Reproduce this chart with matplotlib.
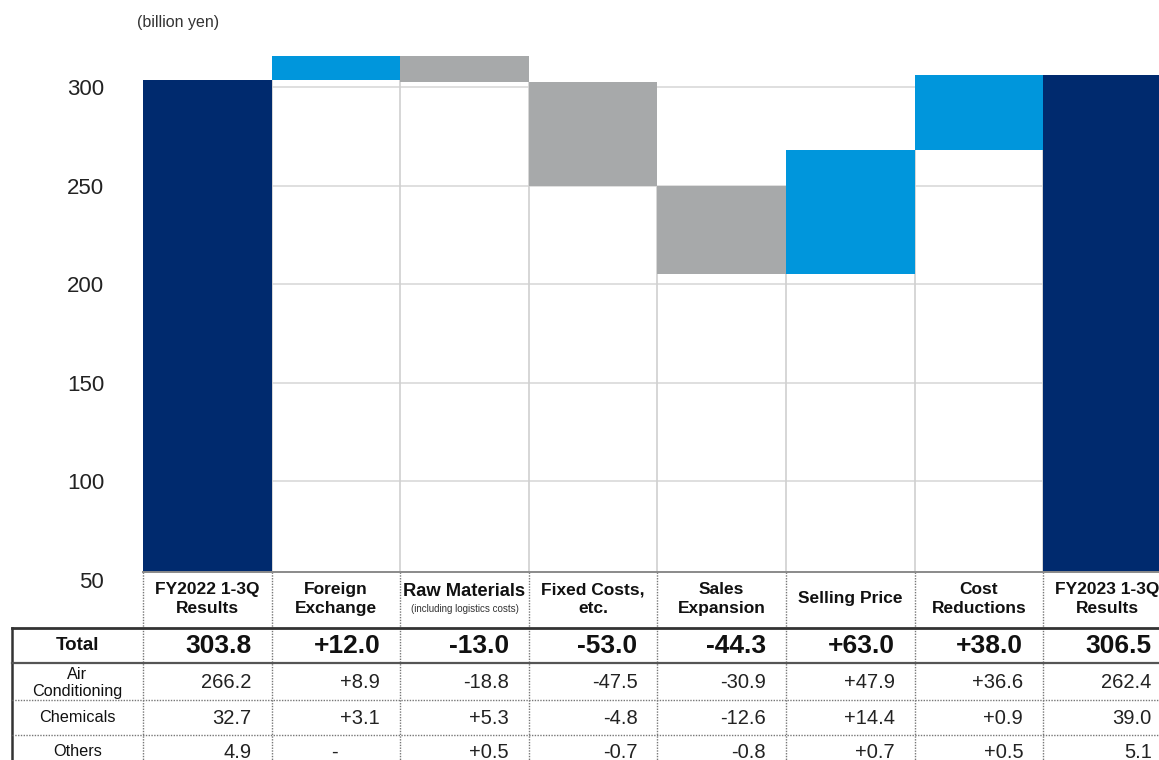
import matplotlib
matplotlib.use("Agg")
import matplotlib.pyplot as plt
from matplotlib.patches import Rectangle

plt.rcParams['font.family'] = ['Liberation Sans', 'DejaVu Sans']

# ---------------- data ----------------
categories = ["FY2022 1-3Q\nResults", "Foreign\nExchange", "Raw Materials", "Fixed Costs,\netc.",
              "Sales\nExpansion", "Selling Price", "Cost\nReductions", "FY2023 1-3Q\nResults"]
raw_note = "(including logistics costs)"
total_vals = [303.8, 12.0, -13.0, -53.0, -44.3, 63.0, 38.0, 306.5]
air_vals = [266.2, 8.9, -18.8, -47.5, -30.9, 47.9, 36.6, 262.4]
chem_vals = [32.7, 3.1, 5.3, -4.8, -12.6, 14.4, 0.9, 39.0]
other_vals = [4.9, None, 0.5, -0.7, -0.8, 0.7, 0.5, 5.1]
row_labels = ["Total", "Air\nConditioning", "Chemicals", "Others"]
yticks = [50, 100, 150, 200, 250, 300]
unit_label = "(billion yen)"

# ---------------- layout ----------------
W, H = 1159, 760
AX_LEFT = 143
COL = 128.6
AX_BOTTOM_PX = 580
AX_TOP_PX = 52
YMIN, YMAX = 50, 318

NAVY = "#002A6E"
BLUE = "#0096DC"
GRAY = "#A7A9AA"
GRID = "#DCDCDC"

fig = plt.figure(figsize=(W / 100, H / 100), dpi=100)
ax = fig.add_axes([AX_LEFT / W, (H - AX_BOTTOM_PX) / H, 8 * COL / W, (AX_BOTTOM_PX - AX_TOP_PX) / H])
ax.set_xlim(-0.5, 7.5)
ax.set_ylim(YMIN, YMAX)

# waterfall geometry
n = len(total_vals)
bottoms, heights, colors = [], [], []
running = total_vals[0]
for i, v in enumerate(total_vals):
    if i == 0 or i == n - 1:
        bottoms.append(0)
        heights.append(v)
        colors.append(NAVY)
    else:
        if v >= 0:
            bottoms.append(running)
            heights.append(v)
            colors.append(BLUE)
        else:
            bottoms.append(running + v)
            heights.append(-v)
            colors.append(GRAY)
        running += v

ax.bar(range(n), heights, bottom=bottoms, width=1.0, color=colors, zorder=3, linewidth=0)

# gridlines
for t in yticks[1:]:
    ax.axhline(t, color=GRID, lw=1.3, zorder=0)
# column boundary lines up to the higher of neighbouring bar bottoms
for i in range(n - 1):
    top = max(bottoms[i], bottoms[i + 1])
    ax.vlines(i + 0.5, YMIN, top, color="#D0D0D0", lw=1.2, zorder=1)

ax.set_yticks(yticks)
ax.set_yticklabels([str(t) for t in yticks], fontsize=16, color="#222222")
ax.tick_params(axis='y', length=0, pad=28)
ax.set_xticks([])
for s in ax.spines.values():
    s.set_visible(False)

fig.text(137 / W, 1 - 22 / H, unit_label, fontsize=11.5, color="#333333", ha="left", va="center")

# ---------------- table overlay ----------------
tax = fig.add_axes([0, 0, 1, 1], zorder=5)
tax.set_xlim(0, W)
tax.set_ylim(H, 0)
tax.axis("off")
tax.patch.set_alpha(0)

tax.add_patch(Rectangle((AX_LEFT, 572), W - AX_LEFT + 20, H - 572 + 10, facecolor="white",
                        edgecolor="none", zorder=1))

bx = [AX_LEFT + COL * k for k in range(n + 1)]
HDR_TOP, TOT_TOP, AIR_TOP, CHEM_TOP, OTH_TOP = 572, 628, 663, 700, 735
row_centers = [646, 683, 718, 752]
LABEL_LEFT = 12

# vertical dotted separators
for k in range(n):
    tax.plot([bx[k], bx[k]], [HDR_TOP, H + 5], color="#777777", lw=1, ls=(0, (1, 1)), zorder=3)
tax.plot([LABEL_LEFT, LABEL_LEFT], [TOT_TOP, H + 5], color="#333333", lw=1.8, zorder=4)

# horizontal lines
tax.plot([AX_LEFT, W], [HDR_TOP, HDR_TOP], color="#8A8A8A", lw=1.4, zorder=4)
tax.plot([LABEL_LEFT, W], [TOT_TOP, TOT_TOP], color="#333333", lw=2.0, zorder=4)
tax.plot([LABEL_LEFT, W], [AIR_TOP, AIR_TOP], color="#555555", lw=1.6, zorder=4)
tax.plot([LABEL_LEFT, W], [CHEM_TOP, CHEM_TOP], color="#777777", lw=1, ls=(0, (1, 1)), zorder=4)
tax.plot([LABEL_LEFT, W], [OTH_TOP, OTH_TOP], color="#777777", lw=1, ls=(0, (1, 1)), zorder=4)

# header labels
for i, lab in enumerate(categories):
    cx = (bx[i] + bx[i + 1]) / 2
    if lab == "Raw Materials":
        tax.text(cx, 591, lab, ha="center", va="center", fontsize=13.2, fontweight="bold",
                 color="#111111", zorder=6)
        tax.text(cx, 609, raw_note, ha="center", va="center", fontsize=7, color="#333333", zorder=6)
    else:
        tax.text(cx, 599, lab, ha="center", va="center", fontsize=12.5, fontweight="bold",
                 color="#111111", linespacing=1.3, zorder=6)

# row labels
lab_cx = (LABEL_LEFT + AX_LEFT) / 2
tax.text(lab_cx, row_centers[0], row_labels[0], ha="center", va="center", fontsize=13.5,
         fontweight="bold", color="#111111", zorder=6)
for r in range(1, 4):
    tax.text(lab_cx, row_centers[r], row_labels[r], ha="center",
             va="center", fontsize=11.7, color="#111111", linespacing=1.2, zorder=6)


def fmt(v, i):
    if v is None:
        return "-"
    if i == 0 or i == n - 1:
        return f"{v:.1f}"
    return f"{v:+.1f}"


rows = [total_vals, air_vals, chem_vals, other_vals]
for r, vals in enumerate(rows):
    for i, v in enumerate(vals):
        s = fmt(v, i)
        if v is None:
            tax.text(bx[i] + 63, row_centers[r], s, ha="center", va="center", fontsize=14.5,
                     color="#222222", zorder=6)
            continue
        if r == 0:
            tax.text(bx[i + 1] - 20, row_centers[r], s, ha="right", va="center", fontsize=19,
                     fontweight="bold", color="#111111", zorder=6)
        else:
            tax.text(bx[i + 1] - 20, row_centers[r], s, ha="right", va="center", fontsize=14.5,
                     color="#222222", zorder=6)

fig.savefig("out.png", dpi=100)
